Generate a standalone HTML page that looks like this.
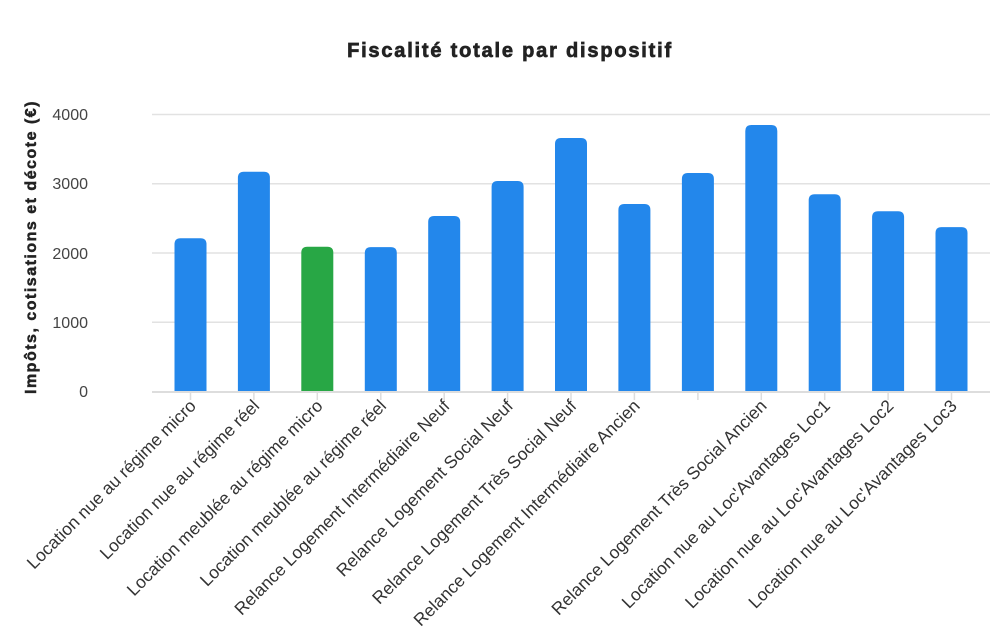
<!DOCTYPE html>
<html><head><meta charset="utf-8"><style>
body{margin:0;background:#fff;}
svg{display:block;font-family:"Liberation Sans",Arial,sans-serif;}
</style></head><body>
<svg width="1002" height="640" viewBox="0 0 1002 640">
<text x="510" y="57" text-anchor="middle" font-size="20" font-weight="bold" fill="#222" stroke="#222" stroke-width="0.7" letter-spacing="1.8">Fiscalité totale par dispositif</text>
<text transform="translate(36,247) rotate(-90)" text-anchor="middle" font-size="16" font-weight="bold" fill="#222" stroke="#222" stroke-width="0.5" letter-spacing="1.5">Impôts, cotisations et décote (€)</text>
<g stroke="#e2e2e2" stroke-width="1.5">
<line x1="152" y1="114.5" x2="990" y2="114.5"/>
<line x1="152" y1="183.8" x2="990" y2="183.8"/>
<line x1="152" y1="253" x2="990" y2="253"/>
<line x1="152" y1="322.3" x2="990" y2="322.3"/>
</g>
<g font-size="16" fill="#444" text-anchor="end">
<text x="88" y="120">4000</text>
<text x="88" y="189">3000</text>
<text x="88" y="259">2000</text>
<text x="88" y="328">1000</text>
<text x="88" y="397">0</text>
</g>
<g fill="#2387eb">
<path d="M174.5,391 V244.3 Q174.5,238.3 180.5,238.3 H200.5 Q206.5,238.3 206.5,244.3 V391 Z"/>
<path d="M237.9,391 V177.7 Q237.9,171.7 243.9,171.7 H263.9 Q269.9,171.7 269.9,177.7 V391 Z"/>
<path fill="#28a745" d="M301.3,391 V252.7 Q301.3,246.7 307.3,246.7 H327.3 Q333.3,246.7 333.3,252.7 V391 Z"/>
<path d="M364.8,391 V253.1 Q364.8,247.1 370.8,247.1 H390.8 Q396.8,247.1 396.8,253.1 V391 Z"/>
<path d="M428.2,391 V222 Q428.2,216 434.2,216 H454.2 Q460.2,216 460.2,222 V391 Z"/>
<path d="M491.6,391 V187 Q491.6,181 497.6,181 H517.6 Q523.6,181 523.6,187 V391 Z"/>
<path d="M555,391 V144 Q555,138 561,138 H581 Q587,138 587,144 V391 Z"/>
<path d="M618.4,391 V210 Q618.4,204 624.4,204 H644.4 Q650.4,204 650.4,210 V391 Z"/>
<path d="M681.9,391 V179 Q681.9,173 687.9,173 H707.9 Q713.9,173 713.9,179 V391 Z"/>
<path d="M745.3,391 V131 Q745.3,125 751.3,125 H771.3 Q777.3,125 777.3,131 V391 Z"/>
<path d="M808.7,391 V200.2 Q808.7,194.2 814.7,194.2 H834.7 Q840.7,194.2 840.7,200.2 V391 Z"/>
<path d="M872.1,391 V217.2 Q872.1,211.2 878.1,211.2 H898.1 Q904.1,211.2 904.1,217.2 V391 Z"/>
<path d="M935.5,391 V233.1 Q935.5,227.1 941.5,227.1 H961.5 Q967.5,227.1 967.5,233.1 V391 Z"/>
</g>
<line x1="152" y1="392" x2="990" y2="392" stroke="#ddd" stroke-width="2"/>
<g stroke="#ddd" stroke-width="1.5">
<line x1="190.5" y1="392" x2="190.5" y2="400"/><line x1="253.9" y1="392" x2="253.9" y2="400"/>
<line x1="317.3" y1="392" x2="317.3" y2="400"/><line x1="380.8" y1="392" x2="380.8" y2="400"/>
<line x1="444.2" y1="392" x2="444.2" y2="400"/><line x1="507.6" y1="392" x2="507.6" y2="400"/>
<line x1="571" y1="392" x2="571" y2="400"/><line x1="634.4" y1="392" x2="634.4" y2="400"/>
<line x1="697.9" y1="392" x2="697.9" y2="400"/><line x1="761.3" y1="392" x2="761.3" y2="400"/>
<line x1="824.7" y1="392" x2="824.7" y2="400"/><line x1="888.1" y1="392" x2="888.1" y2="400"/>
<line x1="951.5" y1="392" x2="951.5" y2="400"/>
</g>
<g font-size="17.5" fill="#333" text-anchor="end">
<text transform="translate(197,407) rotate(-45)">Location nue au régime micro</text>
<text transform="translate(260.4,407) rotate(-45)">Location nue au régime réel</text>
<text transform="translate(323.8,407) rotate(-45)">Location meublée au régime micro</text>
<text transform="translate(387.3,407) rotate(-45)">Location meublée au régime réel</text>
<text transform="translate(450.7,407) rotate(-45)">Relance Logement Intermédiaire Neuf</text>
<text transform="translate(514.1,407) rotate(-45)">Relance Logement Social Neuf</text>
<text transform="translate(577.5,407) rotate(-45)">Relance Logement Très Social Neuf</text>
<text transform="translate(640.9,407) rotate(-45)">Relance Logement Intermédiaire Ancien</text>
<text transform="translate(767.8,407) rotate(-45)">Relance Logement Très Social Ancien</text>
<text transform="translate(831.2,407) rotate(-45)">Location nue au Loc'Avantages Loc1</text>
<text transform="translate(894.6,407) rotate(-45)">Location nue au Loc'Avantages Loc2</text>
<text transform="translate(958,407) rotate(-45)">Location nue au Loc'Avantages Loc3</text>
</g>
</svg>
</body></html>
